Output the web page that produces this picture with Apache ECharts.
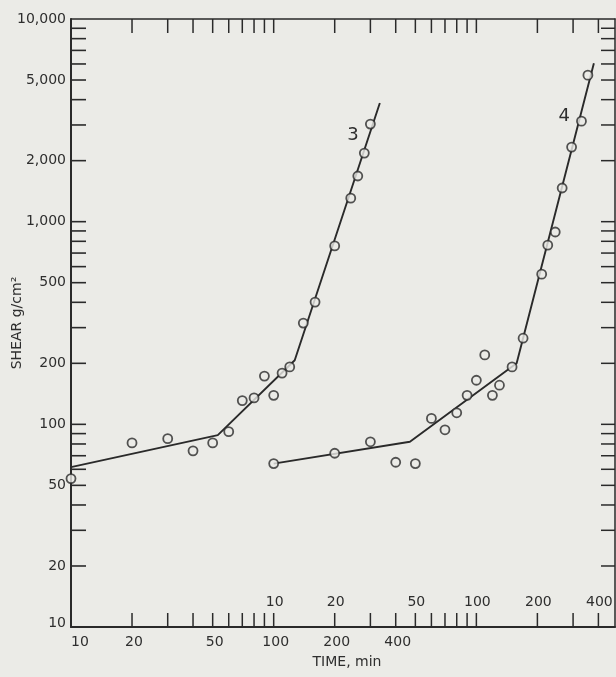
<!DOCTYPE html>
<html>
<head>
<meta charset="utf-8">
<script src="https://cdn.jsdelivr.net/npm/echarts@6/dist/echarts.min.js"></script>
<style>
  html, body { margin: 0; padding: 0; background: #ebebe7; }
  #chart { width: 616px; height: 677px; }
</style>
</head>
<body>
<div id="chart"></div>
<script>
// Curve 3: shear vs. time (lower time scale)
const time3 = [10, 20, 30, 40, 50, 60, 70, 80, 90, 100, 110, 120, 140, 160, 200, 240, 260, 280, 300];
const shear3 = [54, 81, 85, 74, 81, 92, 131, 135, 173, 139, 179, 192, 316, 401, 759, 1306, 1680, 2180, 3030];
// Fitted broken line for curve 3
const fitTime3 = [10, 53, 127, 334];
const fitShear3 = [61.5, 88.5, 207, 3850];

// Curve 4: shear vs. time (upper time scale, one decade shifted)
const time4 = [10, 20, 30, 40, 50, 60, 70, 80, 90, 100, 110, 120, 130, 150, 170, 210, 225, 245, 265, 295, 330, 355];
const shear4 = [64, 72, 82, 65, 64, 107, 94, 114, 139, 165, 220, 139, 156, 192, 266, 551, 766, 889, 1466, 2334, 3133, 5284];
// Fitted broken line for curve 4
const fitTime4 = [10, 47, 158, 380];
const fitShear4 = [64, 82, 200, 6050];

// Axis ranges
const X_MIN = 10, X_MAX = 4830;          // lower time scale
const X4_MIN = 1, X4_MAX = 483;          // upper time scale (curve 4)
const Y_MIN = 10, Y_MAX = 10000;

// Tick marks and labels
const xTicks = [20, 30, 40, 50, 60, 70, 80, 90, 100, 200, 300, 400, 500, 600, 700, 800, 900, 1000, 2000, 3000, 4000];
const yTicks = [20, 30, 40, 50, 60, 70, 80, 90, 100, 200, 300, 400, 500, 600, 700, 800, 900, 1000, 2000, 3000, 4000, 5000, 6000, 7000, 8000, 9000];
const xLabels3 = [10, 20, 50, 100, 200, 400];
const xLabels4 = [10, 20, 50, 100, 200, 400];
const yLabelValues = [10, 20, 50, 100, 200, 500, 1000, 2000, 5000, 10000];
const yLabelTexts = ['10', '20', '50', '100', '200', '500', '1,000', '2,000', '5,000', '10,000'];

const INK = '#2a2a2a';
const TEXT = '#2e2e2e';
const BG = '#ebebe7';
const FONT = '"DejaVu Sans", sans-serif';
const TICK = 14;

const chart = echarts.init(document.getElementById('chart'), null, { renderer: 'canvas' });

const zip = (a, b) => a.map((v, i) => [v, b[i]]);

const hiddenAxisBits = {
  axisTick: { show: false },
  axisLabel: { show: false },
  splitLine: { show: false },
  minorTick: { show: false },
  minorSplitLine: { show: false }
};

const option = {
  backgroundColor: BG,
  animation: false,
  grid: { left: 71, right: 1, top: 19, bottom: 50, containLabel: false },
  xAxis: [
    {
      type: 'log', min: X_MIN, max: X_MAX, position: 'bottom',
      axisLine: { show: true, lineStyle: { color: INK, width: 2 } },
      name: 'TIME, min', nameLocation: 'middle', nameGap: 28,
      nameTextStyle: { color: TEXT, fontSize: 14, fontFamily: FONT, padding: [0, 0, 0, 8] },
      ...hiddenAxisBits
    },
    {
      type: 'log', min: X4_MIN, max: X4_MAX, position: 'top',
      axisLine: { show: true, onZero: false, lineStyle: { color: INK, width: 1.5 } },
      ...hiddenAxisBits
    }
  ],
  yAxis: [
    {
      type: 'log', min: Y_MIN, max: Y_MAX, position: 'left',
      axisLine: { show: true, lineStyle: { color: INK, width: 2 } },
      name: 'SHEAR g/cm²', nameLocation: 'middle', nameGap: 47, nameRotate: 90,
      nameTextStyle: { color: TEXT, fontSize: 14, fontFamily: FONT },
      ...hiddenAxisBits
    },
    {
      type: 'log', min: Y_MIN, max: Y_MAX, position: 'right',
      axisLine: { show: true, onZero: false, lineStyle: { color: INK, width: 1.5 } },
      ...hiddenAxisBits
    }
  ],
  series: [
    // tick marks along bottom and top edges
    {
      type: 'custom', xAxisIndex: 0, yAxisIndex: 0, silent: true, z: 3,
      data: xTicks.map(v => [v, Y_MIN]),
      renderItem(params, api) {
        const v = api.value(0);
        const pb = api.coord([v, Y_MIN]);
        const pt = api.coord([v, Y_MAX]);
        const style = { stroke: INK, lineWidth: 1.5 };
        return {
          type: 'group', children: [
            { type: 'line', shape: { x1: pb[0], y1: pb[1], x2: pb[0], y2: pb[1] - TICK }, style },
            { type: 'line', shape: { x1: pt[0], y1: pt[1], x2: pt[0], y2: pt[1] + TICK }, style }
          ]
        };
      }
    },
    // tick marks along left and right edges
    {
      type: 'custom', xAxisIndex: 0, yAxisIndex: 0, silent: true, z: 3,
      data: yTicks.map(v => [X_MIN, v]),
      renderItem(params, api) {
        const v = api.value(1);
        const pl = api.coord([X_MIN, v]);
        const pr = api.coord([X_MAX, v]);
        return {
          type: 'group', children: [
            { type: 'line', shape: { x1: pl[0], y1: pl[1], x2: pl[0] + TICK + 1, y2: pl[1] }, style: { stroke: INK, lineWidth: 1.6 } },
            { type: 'line', shape: { x1: pr[0], y1: pr[1], x2: pr[0] - TICK, y2: pr[1] }, style: { stroke: INK, lineWidth: 1.5 } }
          ]
        };
      }
    },
    // shear labels on the left
    {
      type: 'custom', xAxisIndex: 0, yAxisIndex: 0, silent: true, clip: false,
      data: yLabelValues.map((v, i) => [X_MIN, v, i]),
      renderItem(params, api) {
        const v = api.value(1);
        const p = api.coord([X_MIN, v]);
        const dy = v === Y_MIN ? -4 : 0;
        return {
          type: 'text', x: p[0] - 5, y: p[1] + dy,
          style: { text: yLabelTexts[api.value(2)], fill: TEXT, font: '14px ' + FONT, align: 'right', verticalAlign: 'middle' }
        };
      }
    },
    // lower time-scale labels (curve 3)
    {
      type: 'custom', xAxisIndex: 0, yAxisIndex: 0, silent: true, clip: false,
      data: xLabels3.map(v => [v, Y_MIN]),
      renderItem(params, api) {
        const v = api.value(0);
        const p = api.coord([v, Y_MIN]);
        return {
          type: 'text', x: v === X_MIN ? p[0] : p[0] + 2, y: p[1] + 15,
          style: { text: String(v), fill: TEXT, font: '14px ' + FONT, align: v === X_MIN ? 'left' : 'center', verticalAlign: 'middle' }
        };
      }
    },
    // upper time-scale labels inside the frame (curve 4)
    {
      type: 'custom', xAxisIndex: 1, yAxisIndex: 0, silent: true, clip: false,
      data: xLabels4.map(v => [v, Y_MIN]),
      renderItem(params, api) {
        const v = api.value(0);
        const p = api.coord([v, Y_MIN]);
        return {
          type: 'text', x: p[0] + 1, y: p[1] - 25,
          style: { text: String(v), fill: TEXT, font: '14px ' + FONT, align: 'center', verticalAlign: 'middle' }
        };
      }
    },
    // fitted line, curve 3
    {
      type: 'line', xAxisIndex: 0, yAxisIndex: 0, z: 4,
      data: zip(fitTime3, fitShear3),
      showSymbol: false, silent: true,
      lineStyle: { color: INK, width: 1.9 },
      markPoint: {
        symbol: 'circle', symbolSize: 0, silent: true,
        label: { show: true, formatter: '3', color: TEXT, fontSize: 18, fontFamily: FONT, position: 'inside' },
        data: [{ coord: [246, 2680] }]
      }
    },
    // fitted line, curve 4
    {
      type: 'line', xAxisIndex: 1, yAxisIndex: 0, z: 4,
      data: zip(fitTime4, fitShear4),
      showSymbol: false, silent: true,
      lineStyle: { color: INK, width: 1.9 },
      markPoint: {
        symbol: 'circle', symbolSize: 0, silent: true,
        label: { show: true, formatter: '4', color: TEXT, fontSize: 18, fontFamily: FONT, position: 'inside' },
        data: [{ coord: [271, 3320] }]
      }
    },
    // observations, curve 3
    {
      type: 'scatter', xAxisIndex: 0, yAxisIndex: 0, z: 5,
      data: zip(time3, shear3),
      symbol: 'circle', symbolSize: 9,
      itemStyle: { color: BG, borderColor: INK, borderWidth: 1.8 }
    },
    // observations, curve 4
    {
      type: 'scatter', xAxisIndex: 1, yAxisIndex: 0, z: 5,
      data: zip(time4, shear4),
      symbol: 'circle', symbolSize: 9,
      itemStyle: { color: BG, borderColor: INK, borderWidth: 1.8 }
    }
  ]
};

chart.setOption(option);
</script>
</body>
</html>
